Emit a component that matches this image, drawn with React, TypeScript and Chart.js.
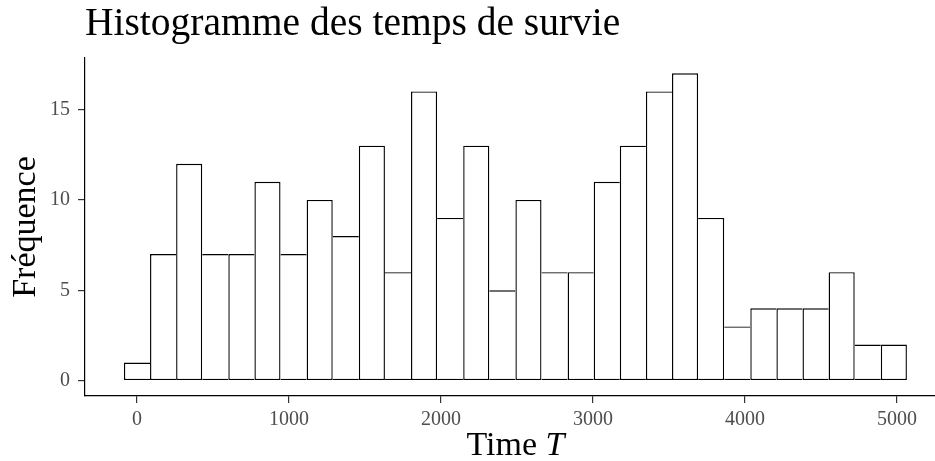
import React, { useEffect, useRef } from "react";
import { Chart, registerables } from "chart.js";

Chart.register(...registerables);

const titleText = "Histogramme des temps de survie";
const xTitleText = "Time ";
const xTitleItalic = "T";
const yTitleText = "Fréquence";

const binWidth = 171.7;
const counts = [1, 7, 12, 7, 7, 11, 7, 10, 8, 13, 6, 16, 9, 13, 5, 10, 6, 6, 11, 13, 16, 17, 9, 3, 4, 4, 4, 6, 2, 2];
const xTicks = [0, 1000, 2000, 3000, 4000, 5000];
const yTicks = [0, 5, 10, 15];

const SERIF = "'Liberation Serif', 'DejaVu Serif', serif";
const BW = 1.4;

const titlesPlugin = {
  id: "customTitles",
  afterDraw(chart: any) {
    const ctx = chart.ctx;
    const area = chart.chartArea;
    ctx.save();
    ctx.fillStyle = "#000";
    ctx.textBaseline = "alphabetic";
    // main title
    ctx.font = `39.5px ${SERIF}`;
    ctx.textAlign = "left";
    ctx.fillText(titleText, area.left, 35);
    // x title
    ctx.font = `34px ${SERIF}`;
    const w1 = ctx.measureText(xTitleText).width;
    ctx.font = `italic 34px ${SERIF}`;
    const w2 = ctx.measureText(xTitleItalic).width;
    const cx = (area.left + 946) / 2;
    const start = cx - (w1 + w2) / 2;
    ctx.font = `34px ${SERIF}`;
    ctx.fillText(xTitleText, start, 455);
    ctx.font = `italic 34px ${SERIF}`;
    ctx.fillText(xTitleItalic, start + w1, 455);
    // y title
    ctx.font = `34px ${SERIF}`;
    ctx.translate(35, (area.top + area.bottom) / 2);
    ctx.rotate(-Math.PI / 2);
    ctx.textAlign = "center";
    ctx.fillText(yTitleText, 0, 0);
    ctx.restore();
  },
};

export default function App() {
  const ref = useRef<HTMLCanvasElement | null>(null);
  useEffect(() => {
    if (!ref.current) return;
    const data = counts.map((c, i) => ({ x: i * binWidth, y: c }));
    const chart = new Chart(ref.current, {
      type: "bar",
      data: {
        datasets: [
          {
            data: data as any,
            backgroundColor: "#ffffff",
            borderColor: "#000000",
            borderSkipped: false,
            inflateAmount: 0,
            categoryPercentage: 1,
            barPercentage: 1,
            borderWidth: (ctx: any) => {
              const i = ctx.dataIndex;
              const c = counts[i];
              const prev = i > 0 ? counts[i - 1] : -1;
              const next = i < counts.length - 1 ? counts[i + 1] : -1;
              return {
                top: BW,
                bottom: BW,
                left: c >= prev ? BW : 0,
                right: c > next ? BW : 0,
              };
            },
          } as any,
        ],
      },
      options: {
        responsive: false,
        animation: false,
        layout: { padding: { top: 58, left: 0, right: 0, bottom: 0 } },
        plugins: { legend: { display: false }, tooltip: { enabled: false }, title: { display: false } },
        scales: {
          x: {
            type: "linear",
            min: -342,
            max: 5250,
            offset: false,
            afterFit: (s: any) => {
              s.height = 65;
            },
            afterBuildTicks: (s: any) => {
              s.ticks = xTicks.map((v) => ({ value: v }));
            },
            grid: { display: true, offset: false, drawOnChartArea: false, drawTicks: true, tickLength: 7, color: "#333333", lineWidth: 1.2 },
            border: { display: true, color: "#000000", width: 1.2 },
            ticks: {
              color: "#4d4d4d",
              padding: 5,
              maxRotation: 0,
              autoSkip: false,
              font: { family: SERIF, size: 20 },
              callback: (v: any) => String(v),
            },
          },
          y: {
            type: "linear",
            min: -0.85,
            max: 17.85,
            afterFit: (s: any) => {
              s.width = 85;
            },
            afterBuildTicks: (s: any) => {
              s.ticks = yTicks.map((v) => ({ value: v }));
            },
            grid: { display: true, offset: false, drawOnChartArea: false, drawTicks: true, tickLength: 7, color: "#333333", lineWidth: 1.2 },
            border: { display: true, color: "#000000", width: 1.2 },
            ticks: {
              color: "#4d4d4d",
              padding: 8,
              font: { family: SERIF, size: 20 },
              callback: (v: any) => String(v),
            },
          },
        },
      },
      plugins: [titlesPlugin],
    });
    return () => chart.destroy();
  }, []);
  return (
    <div style={{ position: "fixed", left: 0, top: 0, width: 935, height: 461, background: "#fff" }}>
      <canvas ref={ref} width={935} height={461} />
    </div>
  );
}
